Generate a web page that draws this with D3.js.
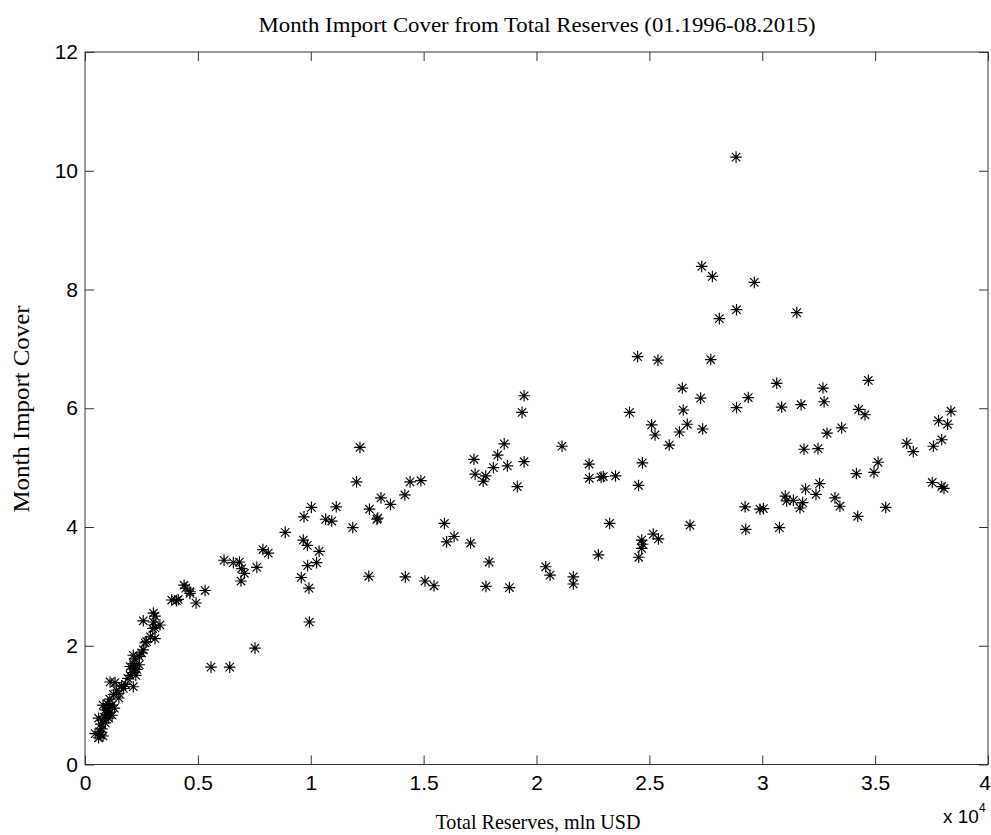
<!DOCTYPE html>
<html>
<head>
<meta charset="utf-8">
<script src="https://cdn.jsdelivr.net/npm/d3@7"></script>
<style>
  html, body { margin: 0; padding: 0; background: #fff; }
  svg { display: block; }
</style>
</head>
<body>
<svg id="chart" width="991" height="835"></svg>
<script>
// ---- Data ----
const titleText = "Month Import Cover from Total Reserves (01.1996-08.2015)";
const xLabelText = "Total Reserves, mln USD";
const yLabelText = "Month Import Cover";

// Total reserves, mln USD
const reservesMln = [
  600, 700, 650, 800, 450, 750, 700, 800, 900, 850, 600, 950, 900, 1000, 1100, 1000,
  1200, 1100, 1050, 1200, 1300, 800, 1110, 1330, 1400, 1500, 1620, 1700, 1800, 1500,
  1260, 1900, 2000, 2100, 2200, 2000, 2150, 2300, 2400, 2200, 2140, 2250, 2140, 2400,
  2510, 2580, 2660, 2730, 2900, 3100, 3000, 3100, 3320, 3030, 2580, 3030, 3100, 3840,
  4050, 4130, 4390, 4470, 4650, 4650, 4920, 5320,
  5580, 6410, 7530, 6160, 6570, 6840, 6940, 7060, 6910, 7610, 7880, 8120, 8870, 9580,
  9670, 9850, 9860, 9920, 9940, 10030, 9700, 10260, 10370, 10660, 10930, 11130, 11860,
  12030, 12180, 12570, 12600, 12970, 12930, 13110, 13530, 14170, 14190, 14400, 14880,
  15060, 15460, 15920, 16020, 16350, 17080, 17230, 17280, 17640, 17750, 17760, 17900,
  18090, 18280, 18570, 18710, 18800, 19150, 19360, 19450, 19450, 20410, 20600, 21130,
  21630, 21630, 22330, 22340, 22740, 22860, 22960, 23240, 23500, 24120, 24480, 24520,
  24530, 24660, 24700, 24660, 24690, 25100, 25170, 25250, 25380, 25400, 25880, 26330,
  26460, 26500, 26680, 26800, 27270, 27320, 27360, 27720, 27790, 28100, 28840, 28860,
  28860, 29240, 29270, 29380, 29650, 29900, 30050, 30640, 30760, 30860, 31020, 31080,
  31380, 31530, 31670, 31720, 31790, 31850, 31920, 32380, 32470, 32540, 32690, 32740,
  32870, 33220, 33440, 33520, 34170, 34230, 34270, 34550, 34700, 34950, 35130, 35470,
  36400, 36690, 37530, 37580, 37810, 37950, 37950, 38050, 38210, 38360
];

// Month import cover
const importCover = [
  0.45, 0.50, 0.55, 0.48, 0.52, 0.60, 0.68, 0.75, 0.70, 0.80, 0.78, 0.85, 0.92, 0.95, 0.88, 1.02,
  1.00, 1.10, 0.78, 0.83, 0.95, 1.00, 1.39, 1.38, 1.25, 1.20, 1.32, 1.28, 1.35, 1.12,
  1.18, 1.45, 1.50, 1.55, 1.62, 1.65, 1.70, 1.60, 1.68, 1.78, 1.84, 1.50, 1.31, 1.82,
  1.88, 1.93, 2.05, 2.07, 2.15, 2.12, 2.29, 2.30, 2.35, 2.40, 2.42, 2.55, 2.50, 2.77,
  2.76, 2.78, 3.02, 2.97, 2.91, 2.88, 2.72, 2.93,
  1.64, 1.64, 1.96, 3.44, 3.40, 3.41, 3.30, 3.22, 3.09, 3.32, 3.62, 3.56, 3.91, 3.15,
  3.78, 3.69, 3.35, 2.97, 2.40, 4.33, 4.17, 3.40, 3.59, 4.13, 4.10, 4.34, 3.99,
  4.76, 5.34, 3.17, 4.30, 4.15, 4.13, 4.49, 4.38, 4.54, 3.16, 4.76, 4.78,
  3.09, 3.01, 4.06, 3.75, 3.84, 3.73, 5.14, 4.89, 4.77, 4.86, 3.00, 3.41,
  5.00, 5.21, 5.40, 5.03, 2.98, 4.68, 5.93, 6.21, 5.10, 3.33, 3.19, 5.36,
  3.16, 3.04, 5.06, 4.82, 3.53, 4.84, 4.85, 4.06, 4.86, 5.93, 6.87, 4.70,
  3.49, 3.64, 3.71, 3.78, 5.08, 5.72, 3.88, 5.55, 6.81, 3.80, 5.38, 5.60,
  6.34, 5.97, 5.73, 4.03, 6.17, 8.39, 5.65, 6.82, 8.22, 7.51, 10.23, 7.66,
  6.01, 4.34, 3.96, 6.18, 8.12, 4.30, 4.31, 6.42, 3.99, 6.02, 4.52, 4.44,
  4.45, 7.61, 4.32, 6.06, 4.41, 5.31, 4.64, 4.55, 5.32, 4.73, 6.34, 6.11,
  5.58, 4.49, 4.35, 5.67, 4.90, 4.18, 5.98, 5.89, 6.47, 4.92, 5.09, 4.33,
  5.41, 5.27, 4.75, 5.36, 5.79, 5.47, 4.68, 4.65, 5.73, 5.95
];

const xTicks = [0, 5000, 10000, 15000, 20000, 25000, 30000, 35000, 40000];
const xTickLabels = ["0", "0.5", "1", "1.5", "2", "2.5", "3", "3.5", "4"];
const yTicks = [0, 2, 4, 6, 8, 10, 12];

// ---- Layout ----
const svg = d3.select("#chart");
const pL = 85, pR = 988, pT = 52, pB = 764.5;
const x = d3.scaleLinear().domain([0, 40000]).range([pL, pR]);
const y = d3.scaleLinear().domain([0, 12]).range([pB, pT]);
const tickLen = 9;
const axisColor = "#333";
const tickFont = "'Liberation Sans', Arial, sans-serif";
const serif = "'Liberation Serif', 'Times New Roman', serif";

// box
svg.append("rect")
  .attr("x", pL).attr("y", pT)
  .attr("width", pR - pL).attr("height", pB - pT)
  .attr("fill", "#fff").attr("stroke", axisColor).attr("stroke-width", 1);

function styleAxis(g, labels) {
  g.select(".domain").remove();
  g.selectAll(".tick line").attr("stroke", axisColor).attr("stroke-width", 1);
  g.selectAll(".tick text")
    .attr("fill", "#000")
    .style("font-family", tickFont)
    .style("font-size", "21px");
  if (!labels) g.selectAll(".tick text").remove();
}

// bottom axis
svg.append("g")
  .attr("transform", `translate(0,${pB})`)
  .call(d3.axisBottom(x).tickValues(xTicks)
    .tickFormat((d, i) => xTickLabels[i])
    .tickSizeInner(-tickLen).tickSizeOuter(0).tickPadding(11))
  .call(g => styleAxis(g, true))
  .call(g => g.selectAll(".tick text").filter(d => d === 40000).attr("dx", -3.5));

// top axis (ticks only)
svg.append("g")
  .attr("transform", `translate(0,${pT})`)
  .call(d3.axisTop(x).tickValues(xTicks).tickFormat("")
    .tickSizeInner(-tickLen).tickSizeOuter(0))
  .call(g => styleAxis(g, false));

// left axis
svg.append("g")
  .attr("transform", `translate(${pL},0)`)
  .call(d3.axisLeft(y).tickValues(yTicks).tickFormat(d3.format("d"))
    .tickSizeInner(-tickLen).tickSizeOuter(0).tickPadding(7))
  .call(g => styleAxis(g, true));

// right axis (ticks only)
svg.append("g")
  .attr("transform", `translate(${pR},0)`)
  .call(d3.axisRight(y).tickValues(yTicks).tickFormat("")
    .tickSizeInner(-tickLen).tickSizeOuter(0))
  .call(g => styleAxis(g, false));

// exponent label
const expG = svg.append("text")
  .attr("x", 943).attr("y", 823)
  .style("font-family", tickFont).style("font-size", "19px").attr("fill", "#000");
expG.append("tspan").text("x 10");
expG.append("tspan").attr("dy", -11).style("font-size", "12px").text("4");

// markers (asterisks)
const r = 5.8, dd = 4.2;
const starPath = `M${-r},0H${r}M0,${-r}V${r}M${-dd},${-dd}L${dd},${dd}M${-dd},${dd}L${dd},${-dd}`;
const n = Math.min(reservesMln.length, importCover.length);
const pts = d3.range(n).map(i => [reservesMln[i], importCover[i]]);
svg.append("g")
  .selectAll("path")
  .data(pts)
  .join("path")
  .attr("transform", d => `translate(${x(d[0])},${y(d[1])})`)
  .attr("d", starPath)
  .attr("fill", "none")
  .attr("stroke", "#000")
  .attr("stroke-width", 1.15);

// title & labels
svg.append("text")
  .attr("x", 537).attr("y", 32)
  .attr("text-anchor", "middle")
  .attr("textLength", 557).attr("lengthAdjust", "spacingAndGlyphs")
  .style("font-family", serif).style("font-size", "22px").attr("fill", "#000")
  .text(titleText);

svg.append("text")
  .attr("x", 538).attr("y", 829)
  .attr("text-anchor", "middle")
  .attr("textLength", 205).attr("lengthAdjust", "spacingAndGlyphs")
  .style("font-family", serif).style("font-size", "22px").attr("fill", "#000")
  .text(xLabelText);

svg.append("text")
  .attr("transform", "translate(29,409) rotate(-90)")
  .attr("text-anchor", "middle")
  .attr("textLength", 207).attr("lengthAdjust", "spacingAndGlyphs")
  .style("font-family", serif).style("font-size", "23px").attr("fill", "#000")
  .text(yLabelText);
</script>
</body>
</html>
